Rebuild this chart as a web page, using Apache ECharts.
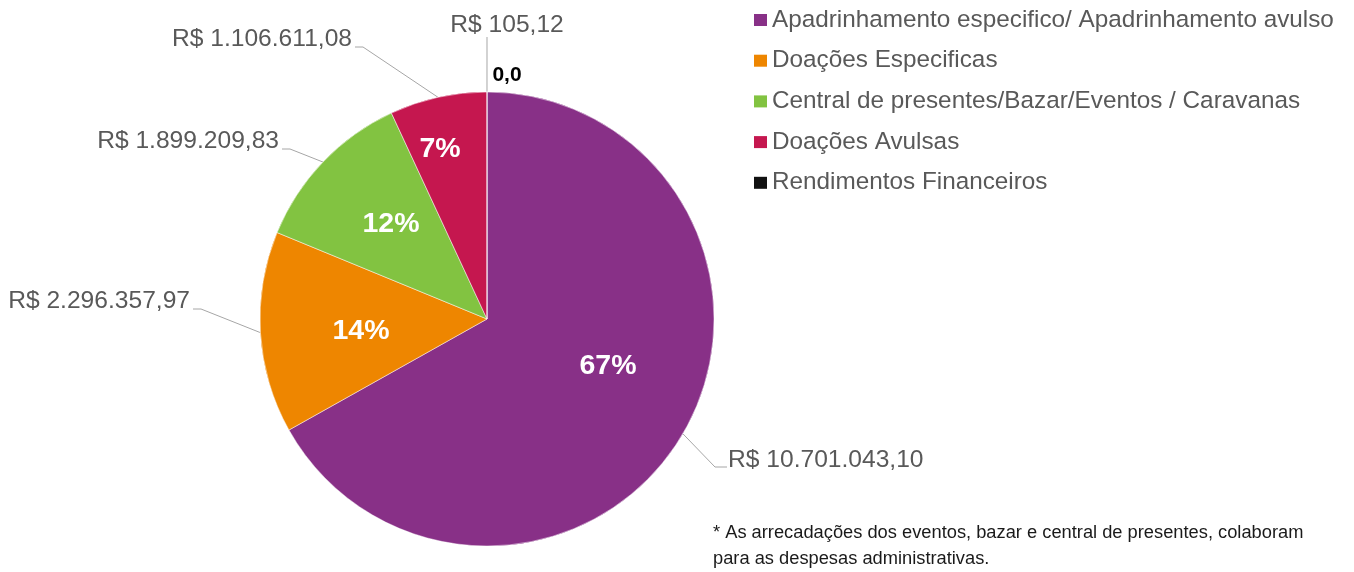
<!DOCTYPE html>
<html>
<head>
<meta charset="utf-8">
<script src="https://cdn.jsdelivr.net/npm/echarts@6/dist/echarts.min.js"></script>
<style>
  html, body { margin: 0; padding: 0; background: #fff; }
  #chart { width: 1354px; height: 572px; }
</style>
</head>
<body>
<div id="chart"></div>
<script>
// dados
const categories = [
  'Apadrinhamento especifico/ Apadrinhamento avulso',
  'Doações Especificas',
  'Central de presentes/Bazar/Eventos / Caravanas',
  'Doações Avulsas',
  'Rendimentos Financeiros'
];
const values = [10701043.10, 2296357.97, 1899209.83, 1106611.08, 105.12];
const colors = ['#883087', '#EE8600', '#82C341', '#C5174F', '#111111'];
const footnote = [
  '* As arrecadações dos eventos, bazar e central de presentes, colaboram',
  'para as despesas administrativas.'
];

// layout do grafico
const CX = 487, CY = 319, R = 227;
const FONT = 'Liberation Sans, Arial, sans-serif';
// ponta da linha de cada rotulo de valor: [x, y, lado do texto]
const valueLabelAt = [[727, 467, 'right'], [193, 309, 'left'], [282, 149, 'left'], [355, 47, 'left'], [487, 37, 'top']];
// centro de cada rotulo de percentual
const pctLabelAt = [[608, 366], [361, 331], [391, 224], [440, 149], [507, 75]];

const total = values.reduce((a, b) => a + b, 0);

function brl(v) {
  const parts = v.toFixed(2).split('.');
  return 'R$ ' + parts[0].replace(/\B(?=(\d{3})+(?!\d))/g, '.') + ',' + parts[1];
}

// ponto na borda da fatia, no angulo do meio
function edgePoint(idx) {
  let before = 0;
  for (let i = 0; i < idx; i++) before += values[i];
  const mid = (before + values[idx] / 2) / total * 2 * Math.PI;
  return [CX + R * Math.sin(mid), CY - R * Math.cos(mid)];
}

const pieData = values.map((v, i) => ({ value: v, name: categories[i] }));

const chart = echarts.init(document.getElementById('chart'));
const option = {
  animation: false,
  color: colors,
  textStyle: { fontFamily: FONT },
  title: {
    text: footnote.join('\n'),
    left: 713,
    top: 520,
    padding: 0,
    textStyle: { fontFamily: FONT, fontSize: 18.3, fontWeight: 'normal', color: '#1a1a1a', lineHeight: 26 }
  },
  legend: {
    data: categories,
    orient: 'vertical',
    left: 754,
    top: 8,
    padding: 0,
    icon: 'rect',
    itemWidth: 13,
    itemHeight: 12,
    itemGap: 16.7,
    selectedMode: false,
    itemStyle: { borderWidth: 0 },
    textStyle: { fontFamily: FONT, fontSize: 24.3, color: '#595959', lineHeight: 24 }
  },
  series: [
    {
      // fatias + rotulos de valor
      type: 'pie',
      center: [CX, CY],
      radius: R,
      startAngle: 90,
      clockwise: true,
      silent: true,
      avoidLabelOverlap: false,
      itemStyle: { borderColor: '#fff', borderWidth: 0.5 },
      label: {
        show: true,
        position: 'outside',
        fontFamily: FONT,
        fontSize: 24.6,
        color: '#595959',
        formatter: p => brl(p.value)
      },
      labelLine: { show: true, lineStyle: { color: '#a6a6a6', width: 1 } },
      labelLayout: function (p) {
        const a = valueLabelAt[p.dataIndex];
        const s = edgePoint(p.dataIndex);
        if (a[2] === 'top') {
          return { x: a[0] + 20, y: a[1] - 12, align: 'center', verticalAlign: 'middle',
            labelLinePoints: [s, [a[0], a[1]], [a[0], a[1]]] };
        }
        if (a[2] === 'right') {
          return { x: a[0] + 1, y: a[1] - 7, align: 'left', verticalAlign: 'middle',
            labelLinePoints: [s, [a[0] - 12, a[1]], [a[0], a[1]]] };
        }
        return { x: a[0] - 3, y: a[1] - 8, align: 'right', verticalAlign: 'middle',
          labelLinePoints: [s, [a[0] + 8, a[1]], [a[0], a[1]]] };
      },
      data: pieData
    },
    {
      // mesmas fatias, so para os percentuais
      type: 'pie',
      center: [CX, CY],
      radius: R,
      startAngle: 90,
      clockwise: true,
      silent: true,
      avoidLabelOverlap: false,
      itemStyle: { borderColor: '#fff', borderWidth: 0.5 },
      label: {
        show: true,
        position: 'inside',
        fontFamily: FONT,
        fontSize: 28.5,
        fontWeight: 'bold',
        color: '#fff',
        formatter: p => p.percent < 0.05
          ? '{k|' + p.percent.toFixed(1).replace('.', ',') + '}'
          : Math.round(p.percent) + '%',
        rich: { k: { fontFamily: FONT, fontSize: 21, fontWeight: 'bold', color: '#000' } }
      },
      labelLine: { show: false },
      labelLayout: function (p) {
        const a = pctLabelAt[p.dataIndex];
        return { x: a[0], y: a[1], align: 'center', verticalAlign: 'middle' };
      },
      data: pieData
    }
  ]
};
option && chart.setOption(option);
</script>
</body>
</html>
